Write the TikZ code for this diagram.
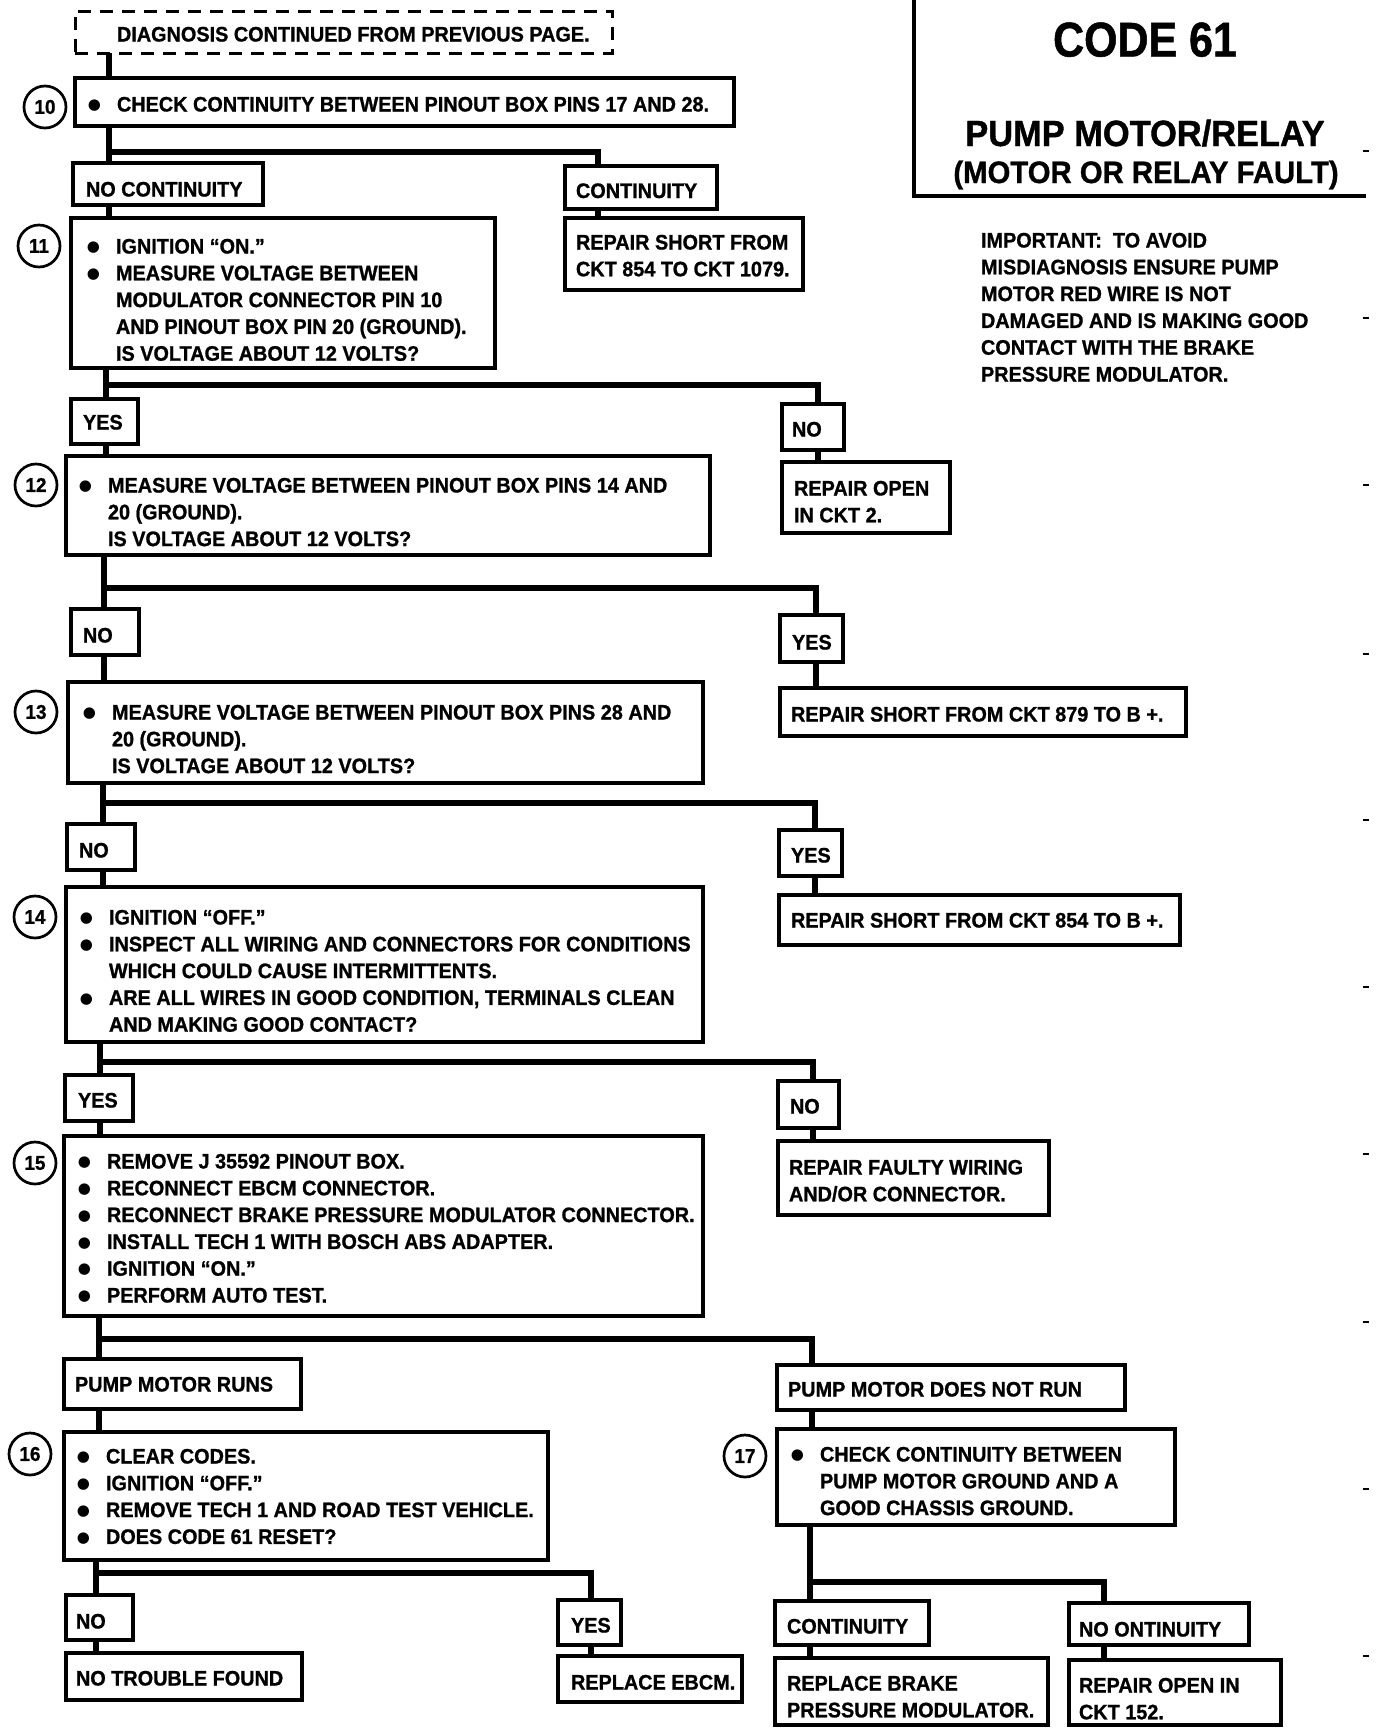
\documentclass[tikz,border=0pt]{standalone}
\usepackage{fontspec}
\setmainfont[FakeStretch=0.945, BoldFeatures={FakeBold=1.0}]{Liberation Sans}
\newfontfamily\titlefont[FakeStretch=0.88, BoldFeatures={FakeBold=1.0}]{Liberation Sans}
\newfontfamily\dvfont{DejaVu Sans}
\usetikzlibrary{fit}
\newcommand\bul{\llap{\raisebox{0.9pt}{\dvfont\fontsize{7.5}{9}\selectfont ●}\hspace{8pt}}}
\newcommand\ls[1]{\begin{tabular}[t]{@{}l@{}}#1\end{tabular}}
\tikzset{
  bx/.style={draw, line width=1.75pt, inner sep=0pt, outer sep=0pt},
  dbx/.style={draw, line width=1.5pt, dash pattern=on 6.5pt off 4.5pt, inner sep=0pt, outer sep=0pt},
  tx/.style={anchor=base west, inner sep=0pt, outer sep=0pt, font=\fontsize{10.5}{13.4}\selectfont\bfseries},
  num/.style={draw, circle, line width=1.35pt, minimum size=21pt, inner sep=0pt, font=\fontsize{10}{11}\selectfont\bfseries},
  cn/.style={line width=3pt},
  tick/.style={line width=1pt},
}
\begin{document}
\begin{tikzpicture}[x=0.5pt,y=-0.5pt]
\useasboundingbox[fill=white] (0,0) rectangle (1392,1730);

% ---------- title block ----------
\coordinate (tA) at (914,0);
\coordinate (tB) at (914,196);
\coordinate (tC) at (1366,196);
\draw[line width=1.75pt] (tA) -- (tB) -- (tC);
\node[anchor=base, inner sep=0pt, font=\titlefont\bfseries\fontsize{24.4}{28}\selectfont] (t1) at (1145,56.5) {CODE 61};
\node[anchor=base, inner sep=0pt, font=\bfseries\fontsize{18.2}{22}\selectfont] (t2) at (1145,146) {PUMP MOTOR/RELAY};
\node[anchor=base, inner sep=0pt, font=\bfseries\fontsize{15.5}{19}\selectfont] (t3) at (1146,183) {(MOTOR OR RELAY FAULT)};
\node[tx] (imp) at (981,247.5) {\ls{IMPORTANT:\ \ TO AVOID\\MISDIAGNOSIS ENSURE PUMP\\MOTOR RED WIRE IS NOT\\DAMAGED AND IS MAKING GOOD\\CONTACT WITH THE BRAKE\\PRESSURE MODULATOR.}};

% ---------- boxes ----------
\node[dbx, fit={(75,11)(612,53)}] (dash) {};
\node[tx] (dasht) at (117,41.5) {DIAGNOSIS CONTINUED FROM PREVIOUS PAGE.};

\node[bx, fit={(75,78)(734,126)}] (b10) {};
\node[tx] (b10t) at (117,111.5) {\bul CHECK CONTINUITY BETWEEN PINOUT BOX PINS 17 AND 28.};
\node[num] (c10) at (45,107) {10};

\node[bx, fit={(73,163)(263,205)}] (nc) {};
\node[tx] (nct) at (86,196.5) {NO CONTINUITY};
\node[bx, fit={(565,166)(717,209)}] (cont) {};
\node[tx] (contt) at (576,198) {CONTINUITY};
\node[bx, fit={(565,218)(803,290)}] (rs1) {};
\node[tx] (rs1t) at (576,249.5) {\ls{REPAIR SHORT FROM\\CKT 854 TO CKT 1079.}};

\node[bx, fit={(71,218)(495,368)}] (b11) {};
\node[tx] (b11t) at (116,253.5) {\ls{\bul IGNITION “ON.”\\\bul MEASURE VOLTAGE BETWEEN\\MODULATOR CONNECTOR PIN 10\\AND PINOUT BOX PIN 20 (GROUND).\\IS VOLTAGE ABOUT 12 VOLTS?}};
\node[num] (c11) at (39,246) {11};

\node[bx, fit={(71,399)(138,444)}] (y11) {};
\node[tx] (y11t) at (83,429.5) {YES};
\node[bx, fit={(782,404)(844,450)}] (n11) {};
\node[tx] (n11t) at (792,436.5) {NO};
\node[bx, fit={(782,462)(950,533)}] (ro2) {};
\node[tx] (ro2t) at (794,495.5) {\ls{REPAIR OPEN\\IN CKT 2.}};

\node[bx, fit={(66,456)(710,555)}] (b12) {};
\node[tx] (b12t) at (108,492.5) {\ls{\bul MEASURE VOLTAGE BETWEEN PINOUT BOX PINS 14 AND\\20 (GROUND).\\IS VOLTAGE ABOUT 12 VOLTS?}};
\node[num] (c12) at (36,485) {12};

\node[bx, fit={(71,609)(139,655)}] (n12) {};
\node[tx] (n12t) at (83,642.5) {NO};
\node[bx, fit={(780,615)(843,662)}] (y12) {};
\node[tx] (y12t) at (792,649.5) {YES};
\node[bx, fit={(780,688)(1186,736)}] (rs879) {};
\node[tx] (rs879t) at (791,721.5) {REPAIR SHORT FROM CKT 879 TO B +.};

\node[bx, fit={(68,682)(703,783)}] (b13) {};
\node[tx] (b13t) at (112,719.5) {\ls{\bul MEASURE VOLTAGE BETWEEN PINOUT BOX PINS 28 AND\\20 (GROUND).\\IS VOLTAGE ABOUT 12 VOLTS?}};
\node[num] (c13) at (36,712) {13};

\node[bx, fit={(67,824)(135,870)}] (n13) {};
\node[tx] (n13t) at (79,857.5) {NO};
\node[bx, fit={(779,830)(842,876)}] (y13) {};
\node[tx] (y13t) at (791,862.5) {YES};
\node[bx, fit={(779,895)(1180,945)}] (rs854) {};
\node[tx] (rs854t) at (791,927.5) {REPAIR SHORT FROM CKT 854 TO B +.};

\node[bx, fit={(66,887)(703,1042)}] (b14) {};
\node[tx] (b14t) at (109,924.5) {\ls{\bul IGNITION “OFF.”\\\bul INSPECT ALL WIRING AND CONNECTORS FOR CONDITIONS\\WHICH COULD CAUSE INTERMITTENTS.\\\bul ARE ALL WIRES IN GOOD CONDITION, TERMINALS CLEAN\\AND MAKING GOOD CONTACT?}};
\node[num] (c14) at (35,917) {14};

\node[bx, fit={(65,1075)(133,1121)}] (y14) {};
\node[tx] (y14t) at (78,1107.5) {YES};
\node[bx, fit={(778,1081)(839,1128)}] (n14) {};
\node[tx] (n14t) at (790,1113.5) {NO};
\node[bx, fit={(778,1141)(1049,1215)}] (rfw) {};
\node[tx] (rfwt) at (789,1174.5) {\ls{REPAIR FAULTY WIRING\\AND/OR CONNECTOR.}};

\node[bx, fit={(64,1136)(703,1316)}] (b15) {};
\node[tx] (b15t) at (107,1168.5) {\ls{\bul REMOVE J 35592 PINOUT BOX.\\\bul RECONNECT EBCM CONNECTOR.\\\bul RECONNECT BRAKE PRESSURE MODULATOR CONNECTOR.\\\bul INSTALL TECH 1 WITH BOSCH ABS ADAPTER.\\\bul IGNITION “ON.”\\\bul PERFORM AUTO TEST.}};
\node[num] (c15) at (35,1163) {15};

\node[bx, fit={(64,1359)(301,1409)}] (pmr) {};
\node[tx] (pmrt) at (75,1391.5) {PUMP MOTOR RUNS};
\node[bx, fit={(777,1365)(1125,1410)}] (pmnr) {};
\node[tx] (pmnrt) at (788,1396.5) {PUMP MOTOR DOES NOT RUN};

\node[bx, fit={(64,1432)(548,1560)}] (b16) {};
\node[tx] (b16t) at (106,1463.5) {\ls{\bul CLEAR CODES.\\\bul IGNITION “OFF.”\\\bul REMOVE TECH 1 AND ROAD TEST VEHICLE.\\\bul DOES CODE 61 RESET?}};
\node[num] (c16) at (30,1454) {16};

\node[bx, fit={(777,1429)(1175,1525)}] (b17) {};
\node[tx] (b17t) at (820,1461.5) {\ls{\bul CHECK CONTINUITY BETWEEN\\PUMP MOTOR GROUND AND A\\GOOD CHASSIS GROUND.}};
\node[num] (c17) at (745,1456) {17};

\node[bx, fit={(66,1595)(133,1640)}] (n16) {};
\node[tx] (n16t) at (76,1628.5) {NO};
\node[bx, fit={(558,1600)(621,1645)}] (y16) {};
\node[tx] (y16t) at (571,1632.5) {YES};
\node[bx, fit={(66,1653)(302,1700)}] (ntf) {};
\node[tx] (ntft) at (76,1685.5) {NO TROUBLE FOUND};
\node[bx, fit={(558,1656)(742,1702)}] (rebcm) {};
\node[tx] (rebcmt) at (571,1689.5) {REPLACE EBCM.};

\node[bx, fit={(775,1601)(929,1645)}] (c17c) {};
\node[tx] (c17ct) at (787,1633.5) {CONTINUITY};
\node[bx, fit={(1069,1603)(1249,1645)}] (c17n) {};
\node[tx] (c17nt) at (1079,1636.5) {NO ONTINUITY};
\node[bx, fit={(775,1658)(1048,1725)}] (rbpm) {};
\node[tx] (rbpmt) at (787,1690.5) {\ls{REPLACE BRAKE\\PRESSURE MODULATOR.}};
\node[bx, fit={(1069,1660)(1281,1725)}] (ro152) {};
\node[tx] (ro152t) at (1079,1692.5) {\ls{REPAIR OPEN IN\\CKT 152.}};

% ---------- connectors ----------
\coordinate (j1) at (109,152); \coordinate (k1) at (598,152);
\draw[cn] (dash.south -| j1) -- (b10.north -| j1);
\draw[cn] (b10.south -| j1) -- (nc.north -| j1);
\draw[cn] (j1) -- (k1) -- (cont.north -| k1);
\draw[cn] (nc.south -| j1) -- (b11.north -| j1);
\draw[cn] (cont.south -| k1) -- (rs1.north -| k1);

\coordinate (j2) at (106,385); \coordinate (k2) at (818,385);
\draw[cn] (b11.south -| j2) -- (y11.north -| j2);
\draw[cn] (j2) -- (k2) -- (n11.north -| k2);
\draw[cn] (y11.south -| j2) -- (b12.north -| j2);
\draw[cn] (n11.south -| k2) -- (ro2.north -| k2);

\coordinate (j3) at (104,588); \coordinate (k3) at (816,588);
\draw[cn] (b12.south -| j3) -- (n12.north -| j3);
\draw[cn] (j3) -- (k3) -- (y12.north -| k3);
\draw[cn] (n12.south -| j3) -- (b13.north -| j3);
\draw[cn] (y12.south -| k3) -- (rs879.north -| k3);

\coordinate (j4) at (103,803); \coordinate (k4) at (815,803);
\draw[cn] (b13.south -| j4) -- (n13.north -| j4);
\draw[cn] (j4) -- (k4) -- (y13.north -| k4);
\draw[cn] (n13.south -| j4) -- (b14.north -| j4);
\draw[cn] (y13.south -| k4) -- (rs854.north -| k4);

\coordinate (j5) at (100,1062); \coordinate (k5) at (813,1062);
\draw[cn] (b14.south -| j5) -- (y14.north -| j5);
\draw[cn] (j5) -- (k5) -- (n14.north -| k5);
\draw[cn] (y14.south -| j5) -- (b15.north -| j5);
\draw[cn] (n14.south -| k5) -- (rfw.north -| k5);

\coordinate (j6) at (99,1339); \coordinate (k6) at (812,1339);
\draw[cn] (b15.south -| j6) -- (pmr.north -| j6);
\draw[cn] (j6) -- (k6) -- (pmnr.north -| k6);
\draw[cn] (pmr.south -| j6) -- (b16.north -| j6);
\draw[cn] (pmnr.south -| k6) -- (b17.north -| k6);

\coordinate (j7) at (96,1573); \coordinate (k7) at (591,1573);
\draw[cn] (b16.south -| j7) -- (n16.north -| j7);
\draw[cn] (j7) -- (k7) -- (y16.north -| k7);
\draw[cn] (n16.south -| j7) -- (ntf.north -| j7);
\draw[cn] (y16.south -| k7) -- (rebcm.north -| k7);

\coordinate (j8) at (810,1582); \coordinate (k8) at (1104,1582);
\draw[cn] (b17.south -| j8) -- (c17c.north -| j8);
\draw[cn] (j8) -- (k8) -- (c17n.north -| k8);
\draw[cn] (c17c.south -| j8) -- (rbpm.north -| j8);
\draw[cn] (c17n.south -| k8) -- (ro152.north -| k8);

% ---------- small marks at right edge ----------
\foreach \yy in {151,318,485,654,820,987,1154,1322,1489,1656}
  \draw[tick] (1363,\yy) -- (1369,\yy);
\end{tikzpicture}
\end{document}
